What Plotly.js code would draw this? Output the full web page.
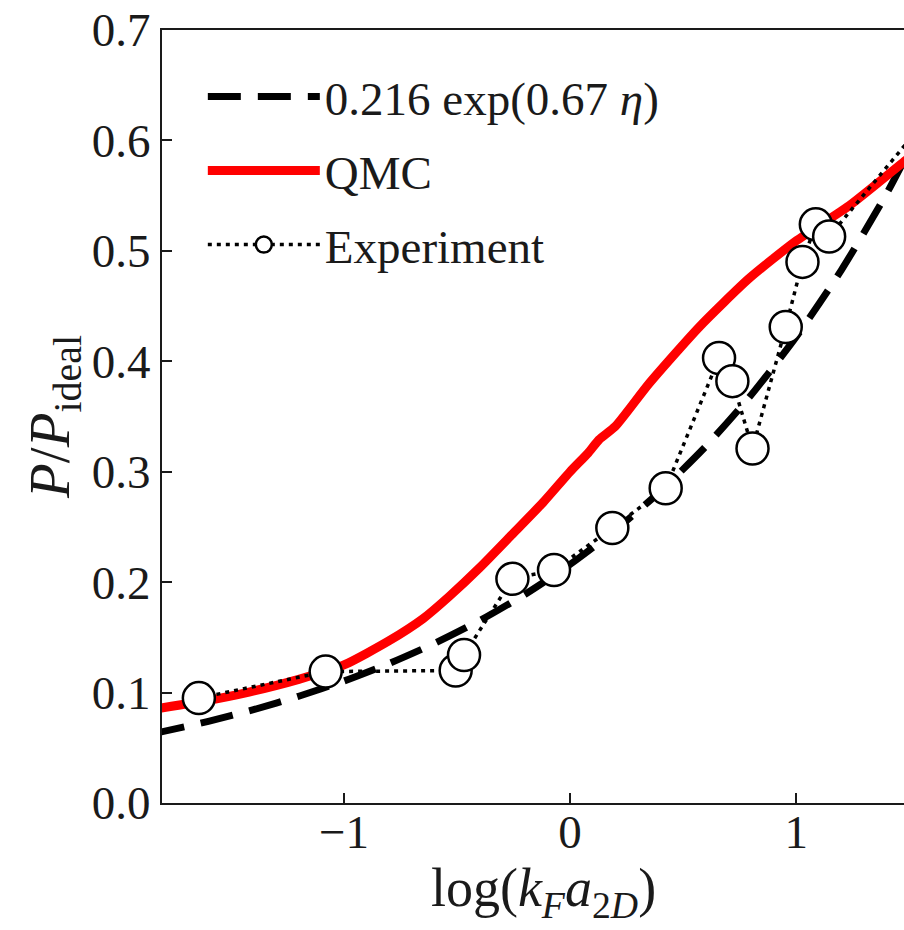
<!DOCTYPE html>
<html><head><meta charset="utf-8">
<script src="https://cdn.plot.ly/plotly-3.0.1.min.js"></script>
<style>html,body{margin:0;padding:0;overflow:hidden;background:#fff}</style>
</head><body><div id="chart"></div>
<script>
// Fit curve 0.216 exp(0.67 eta)
const fitX = [-1.85, -1.6, -1.4, -1.2, -1.0, -0.8, -0.6, -0.4, -0.2, 0.0, 0.2, 0.4, 0.6, 0.8, 1.0, 1.2, 1.4, 1.6];
const fitY = [0.0625, 0.0739, 0.0845, 0.0967, 0.1105, 0.1264, 0.1445, 0.1652, 0.1889, 0.216, 0.247, 0.2824, 0.3229, 0.3692, 0.4221, 0.4826, 0.5518, 0.631];
// QMC curve
const qmcX = [-1.81, -1.6, -1.42, -1.2, -1.0, -0.8, -0.65, -0.535, -0.4, -0.257, -0.12, 0.0, 0.08, 0.128, 0.2, 0.35, 0.571, 0.792, 1.0, 1.235, 1.473, 1.57];
const qmcY = [0.086, 0.093, 0.1005, 0.112, 0.125, 0.147, 0.167, 0.187, 0.213, 0.243, 0.272, 0.300, 0.317, 0.329, 0.341, 0.380, 0.431, 0.475, 0.509, 0.541, 0.580, 0.595];
// Experiment points (in plotted order)
const expX = [-1.642, -1.081, -0.506, -0.469, -0.255, -0.071, 0.187, 0.423, 0.659, 0.718, 0.807, 0.954, 1.028, 1.087, 1.146, 1.6];
const expY = [0.095, 0.119, 0.120, 0.134, 0.203, 0.211, 0.249, 0.285, 0.403, 0.382, 0.321, 0.431, 0.490, 0.524, 0.513, 0.625];
// Ticks
const xTickVals = [-1, 0, 1];
const xTickText = ['\u22121', '0', '1'];
const yTickVals = [0.0, 0.1, 0.2, 0.3, 0.4, 0.5, 0.6, 0.7];
const yTickText = ['0.0', '0.1', '0.2', '0.3', '0.4', '0.5', '0.6', '0.7'];

const FONT = 'Liberation Serif, Times New Roman, serif';
const INK = '#1a1a1a';
const FS = 47;

const traces = [
  {x: fitX, y: fitY, type: 'scatter', mode: 'lines', name: '0.216 exp(0.67 <i>\u03b7</i>)', legendgroup: 'a',
   line: {color: '#000', width: 7, dash: '33px,17px', shape: 'spline', smoothing: 0.6}},
  {x: qmcX, y: qmcY, type: 'scatter', mode: 'lines', name: 'QMC', legendgroup: 'b',
   line: {color: '#ff0000', width: 9, shape: 'spline', smoothing: 0.6}},
  {x: expX, y: expY, type: 'scatter', mode: 'lines+markers', name: 'Experiment', legendgroup: 'c',
   line: {color: '#000', width: 3.5, dash: '4px,5px'},
   marker: {symbol: 'circle', size: 32, color: '#fff', line: {color: '#000', width: 2.5}}}
];

const axisCommon = {
  showgrid: false, zeroline: false, showline: true, linecolor: INK, linewidth: 2,
  mirror: true, ticks: 'inside', ticklen: 10, tickwidth: 2, tickcolor: INK,
  tickfont: {family: FONT, size: FS, color: INK}, tickmode: 'array'
};

const layout = {
  width: 1000, height: 930,
  margin: {l: 162, r: 75, t: 30, b: 127},
  paper_bgcolor: '#fff', plot_bgcolor: '#fff',
  font: {family: FONT, color: INK},
  showlegend: true,
  legend: {x: 0.0535, y: 0.962, xanchor: 'left', yanchor: 'top', bgcolor: 'rgba(0,0,0,0)',
           font: {family: FONT, size: FS, color: INK}, itemwidth: 112, tracegroupgap: 10},
  xaxis: Object.assign({}, axisCommon, {range: [-1.805, 1.57], tickvals: xTickVals, ticktext: xTickText,
    ticklabelstandoff: -13,
    title: {text: 'log(<i>k</i><sub><i>F</i></sub><i>a</i><sub>2<i>D</i></sub>)', font: {family: FONT, size: 54, color: INK}, standoff: 6}}),
  yaxis: Object.assign({}, axisCommon, {range: [0, 0.7], tickvals: yTickVals, ticktext: yTickText,
    title: {text: '<i>P</i>/<i>P</i><sub>ideal</sub>', font: {family: FONT, size: 57, color: INK}, standoff: 4}})
};

Plotly.newPlot('chart', traces, layout, {displayModeBar: false, staticPlot: true});
</script></body></html>
